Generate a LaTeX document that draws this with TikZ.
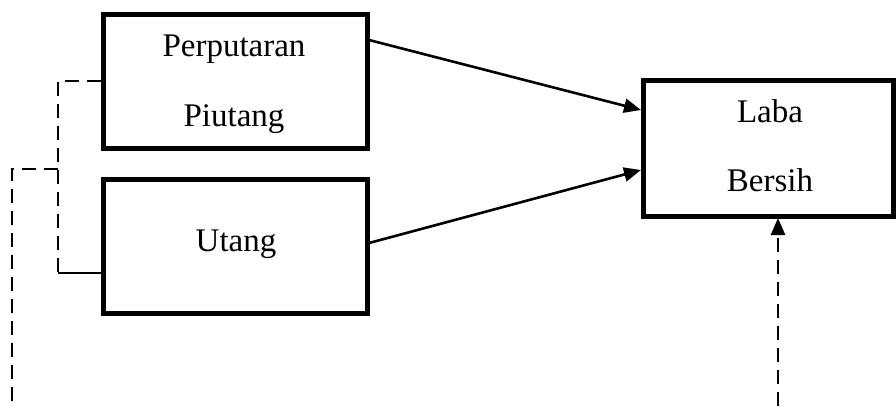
\documentclass[tikz,border=0pt]{standalone}
\usepackage{fontspec}
\setmainfont{Liberation Serif}
\usetikzlibrary{arrows.meta,calc}
\begin{document}
\begin{tikzpicture}[x=1pt,y=-1pt,
  box/.style={draw=black,line width=5pt,minimum width=#1,minimum height=134pt,inner sep=0pt,outer sep=0pt,fill=white},
  lbl/.style={font=\fontsize{33}{40}\selectfont,anchor=base,inner sep=0pt},
  tip/.style={-{Triangle[length=17pt,width=14pt]}},
  conn/.style={line width=2.6pt,tip},
  dashline/.style={line width=2.6pt,dash pattern=on 14pt off 8pt},
  thin/.style={line width=1.6pt}]
\useasboundingbox (0,0) rectangle (896,408);
\node[box=264pt] (b1) at (235,81) {};
\node[box=264pt] (b2) at (235,246) {};
\node[box=250pt,minimum height=136pt] (b3) at (768,148) {};
\node[lbl] (t1) at (234,56) {Perputaran};
\node[lbl] (t2) at (234,126) {Piutang};
\node[lbl] (t3) at (236,251) {Utang};
\node[lbl] (t4) at (770,122) {Laba};
\node[lbl] (t5) at (770,191) {Bersih};
\coordinate (s1) at (369,40);
\coordinate (e1) at (641,110);
\coordinate (s2) at (369,243);
\coordinate (e2) at (641,170);
\draw[conn] (s1) -- (e1);
\draw[conn] (s2) -- (e2);
\coordinate (d0) at (778,406);
\coordinate (d1) at (778,218);
\draw[dashline,tip] (d0) -- (d1);
\coordinate (p1) at (101,81);
\coordinate (p2) at (58,81);
\coordinate (p3) at (58,273);
\coordinate (p4) at (101,273);
\draw[dashline] (p1) -- (p2) -- (p3);
\draw[thin] (p3) -- (p4);
\coordinate (q1) at (58,169);
\coordinate (q2) at (12,169);
\coordinate (q3) at (12,406);
\draw[dashline] (q1) -- (q2) -- (q3);
\end{tikzpicture}
\end{document}
